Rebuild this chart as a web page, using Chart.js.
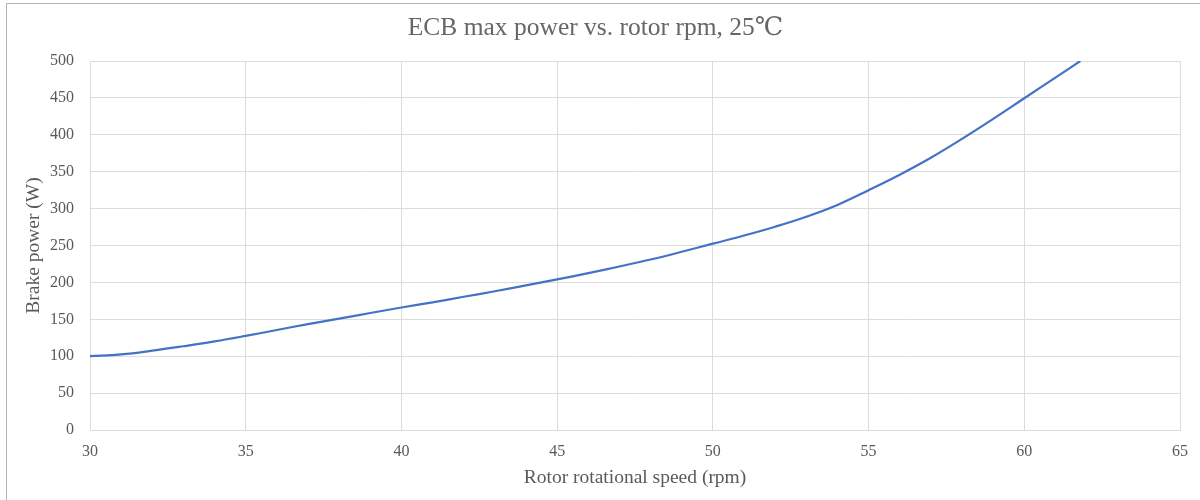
<!DOCTYPE html>
<html>
<head>
<meta charset="utf-8">
<title>ECB max power vs. rotor rpm</title>
<script src="https://cdn.jsdelivr.net/npm/chart.js@4/dist/chart.umd.min.js"></script>
<style>
  html, body { margin: 0; padding: 0; background: #ffffff; overflow: hidden; }
  #wrap { position: relative; width: 1200px; height: 500px; }
  #frame { position: absolute; left: 6px; top: 3px; width: 1300px; height: 600px;
           border: 1px solid #b4b4b4; box-sizing: border-box; pointer-events: none; }
  canvas { position: absolute; left: 0; top: 0; }
</style>
</head>
<body>
<div id="wrap">
  <canvas id="chart" width="1200" height="500"></canvas>
  <div id="frame"></div>
</div>
<script>
// Rotor speed (rpm) and measured maximum brake power (W) at 25 °C
const rotorRpm = [30, 31, 32, 33, 34, 35, 36, 37, 38, 39, 40, 41, 42, 43, 44, 45,
                  46, 47, 48, 49, 50, 51, 52, 53, 54, 55, 56, 57, 58, 59, 60, 61, 61.8];
const brakePowerW = [100, 102.5, 107.5, 113.5, 120, 127.5, 135.5, 143.5, 151, 158.5, 166, 173, 180.5, 188, 196, 204,
                     212.5, 221.5, 231, 241.5, 252.5, 263.5, 275.5, 289, 305, 325, 346, 369, 394.5, 421.5, 449.5, 477.5, 500];

const xTicks = [30, 35, 40, 45, 50, 55, 60, 65];
const yTicks = [0, 50, 100, 150, 200, 250, 300, 350, 400, 450, 500];

const chartTitle = 'ECB max power vs. rotor rpm, 25\u2103';
const xTitle = 'Rotor rotational speed (rpm)';
const yTitle = 'Brake power (W)';

const points = rotorRpm.map((x, i) => ({ x: x, y: brakePowerW[i] }));

const serif = '"Liberation Serif", "DejaVu Serif", serif';
const textColor = '#595959';
const gridColor = '#dcdcdc';

new Chart(document.getElementById('chart'), {
  type: 'scatter',
  data: {
    datasets: [{
      data: points,
      showLine: true,
      borderColor: '#4472C4',
      borderWidth: 2.2,
      pointRadius: 0,
      pointHoverRadius: 0,
      tension: 0.4,
      fill: false
    }]
  },
  options: {
    responsive: false,
    animation: false,
    devicePixelRatio: 1,
    layout: { padding: { left: 0, right: 9, top: 0, bottom: 0 } },
    plugins: {
      legend: { display: false },
      tooltip: { enabled: false },
      title: {
        display: true,
        text: chartTitle,
        color: '#666666',
        font: { family: serif, size: 25.5, weight: 'normal' },
        padding: { top: 13, bottom: 17.4 }
      }
    },
    scales: {
      x: {
        type: 'linear',
        min: xTicks[0],
        max: xTicks[xTicks.length - 1],
        afterBuildTicks: (s) => { s.ticks = xTicks.map(v => ({ value: v })); },
        afterFit: (s) => { s.height = 70; },
        grid: { color: gridColor, lineWidth: 1, drawTicks: false },
        border: { color: gridColor },
        ticks: { color: textColor, font: { family: serif, size: 16 }, padding: 12, maxRotation: 0 },
        title: {
          display: true, text: xTitle, color: textColor,
          font: { family: serif, size: 19.5 }, padding: { top: 0, bottom: 10 }
        }
      },
      y: {
        type: 'linear',
        min: yTicks[0],
        max: yTicks[yTicks.length - 1],
        afterBuildTicks: (s) => { s.ticks = yTicks.map(v => ({ value: v })); },
        afterFit: (s) => { s.width = 90; },
        grid: { color: gridColor, lineWidth: 1, drawTicks: false },
        border: { color: gridColor },
        ticks: { color: textColor, font: { family: serif, size: 16 }, padding: 16 },
        title: {
          display: true, text: yTitle, color: textColor,
          font: { family: serif, size: 19.5 }, padding: { top: 22, bottom: 0 }
        }
      }
    }
  }
});
</script>
</body>
</html>
